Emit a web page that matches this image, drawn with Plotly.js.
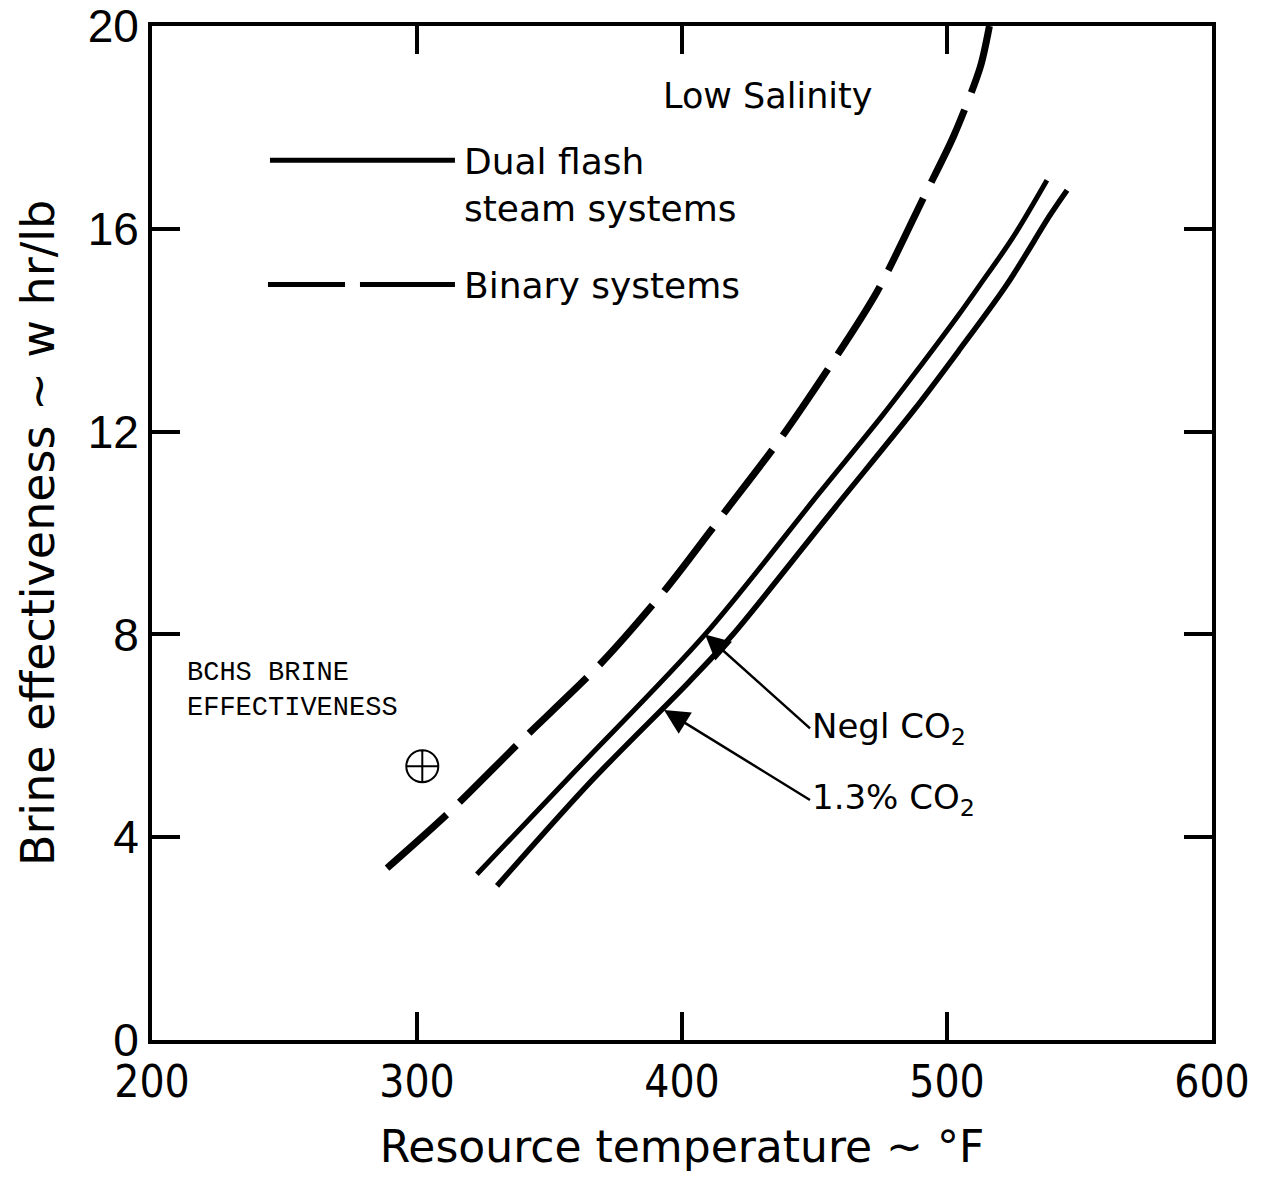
<!DOCTYPE html>
<html>
<head>
<meta charset="utf-8">
<script src="https://cdn.plot.ly/plotly-3.0.1.min.js"></script>
<style>
  html, body { margin: 0; padding: 0; background: #ffffff; }
  #chart { width: 1261px; height: 1181px; }
</style>
</head>
<body>
<div id="chart"></div>
<script>
// Binary systems (dashed)
const binaryTemp = [288.7, 311.3, 338.9, 369.8, 394.3, 415.8, 436.6, 455.8, 473.6, 491.3, 502.6, 512.5, 516.0];
const binaryEff  = [3.39, 4.45, 5.88, 7.45, 8.92, 10.39, 11.82, 13.29, 14.76, 16.63, 17.84, 19.18, 20.0];

// Dual flash steam systems, negligible CO2 (upper solid)
const neglTemp = [322.6, 359.6, 408.7, 452.0, 475.5, 487.9, 504.5, 512.5, 524.5, 537.7];
const neglEff  = [3.27, 5.3, 8.0, 10.8, 12.31, 13.15, 14.31, 14.9, 15.8, 16.96];

// Dual flash steam systems, 1.3% CO2 (lower solid)
const co2Temp = [330.2, 366.0, 402.6, 418.9, 457.7, 487.9, 504.5, 522.6, 538.9, 545.3];
const co2Eff  = [3.04, 5.12, 7.06, 7.98, 10.5, 12.45, 13.6, 14.9, 16.27, 16.76];

// BCHS brine effectiveness point
const bchsTemp = [302];
const bchsEff  = [5.4];

const xTicks = [200, 300, 400, 500, 600];
const yTicks = [0, 4, 8, 12, 16, 20];

const traces = [
  { x: binaryTemp, y: binaryEff, type: 'scatter', mode: 'lines',
    line: { color: '#000', width: 7, dash: '80px,18px', shape: 'spline', smoothing: 0.8 }, name: 'Binary systems' },
  { x: neglTemp, y: neglEff, type: 'scatter', mode: 'lines',
    line: { color: '#000', width: 5, shape: 'spline', smoothing: 0.9 }, name: 'Negl CO2' },
  { x: co2Temp, y: co2Eff, type: 'scatter', mode: 'lines',
    line: { color: '#000', width: 5.5, shape: 'spline', smoothing: 0.9 }, name: '1.3% CO2' },
  { x: bchsTemp, y: bchsEff, type: 'scatter', mode: 'markers',
    marker: { symbol: 'circle-cross-open', size: 32, color: '#000', line: { width: 2, color: '#000' } },
    name: 'BCHS' }
];

const layout = {
  width: 1261, height: 1181,
  paper_bgcolor: '#fff', plot_bgcolor: '#fff',
  showlegend: false,
  margin: { l: 152, r: 49, t: 26, b: 141 },
  xaxis: {
    range: [200, 600], tickvals: xTicks, ticktext: xTicks.map(String),
    showgrid: false, zeroline: false, showline: true, linecolor: '#000', linewidth: 4,
    mirror: 'ticks', ticks: 'inside', ticklen: 28, tickwidth: 4, tickcolor: '#000',
    ticklabeloverflow: 'allow',
    tickfont: { family: 'DejaVu Sans Condensed, Liberation Sans Narrow, Liberation Sans, sans-serif', size: 44, color: '#000' },
    title: { text: 'Resource temperature ~ °F', standoff: 26,
      font: { family: 'DejaVu Sans, sans-serif', size: 44, color: '#000' } }
  },
  yaxis: {
    range: [0, 20], tickvals: yTicks, ticktext: yTicks.map(String),
    showgrid: false, zeroline: false, showline: true, linecolor: '#000', linewidth: 4,
    mirror: 'ticks', ticks: 'inside', ticklen: 28, tickwidth: 4, tickcolor: '#000',
    ticklabeloverflow: 'allow',
    tickfont: { family: 'Liberation Sans, Arial, sans-serif', size: 46, color: '#000' },
    title: { text: 'Brine effectiveness ~ w hr/lb', standoff: 20,
      font: { family: 'DejaVu Sans, sans-serif', size: 46, color: '#000' } }
  },
  shapes: [
    { type: 'line', xref: 'paper', yref: 'paper', x0: 0.1113, x1: 0.2858, y0: 0.8676, y1: 0.8676,
      line: { color: '#000', width: 5 } },
    { type: 'line', xref: 'paper', yref: 'paper', x0: 0.1094, x1: 0.1821, y0: 0.745, y1: 0.745,
      line: { color: '#000', width: 5 } },
    { type: 'line', xref: 'paper', yref: 'paper', x0: 0.1962, x1: 0.2858, y0: 0.745, y1: 0.745,
      line: { color: '#000', width: 5 } }
  ],
  annotations: [
    { text: 'Low Salinity', xref: 'paper', yref: 'paper', x: 0.581, y: 0.931,
      xanchor: 'center', yanchor: 'middle', showarrow: false,
      font: { family: 'DejaVu Sans, sans-serif', size: 35, color: '#000' } },
    { text: 'Dual flash<br>steam systems', xref: 'paper', yref: 'paper', x: 0.2925, y: 0.843,
      xanchor: 'left', yanchor: 'middle', align: 'left', showarrow: false,
      font: { family: 'DejaVu Sans, sans-serif', size: 36, color: '#000' } },
    { text: 'Binary systems', xref: 'paper', yref: 'paper', x: 0.2925, y: 0.744,
      xanchor: 'left', yanchor: 'middle', align: 'left', showarrow: false,
      font: { family: 'DejaVu Sans, sans-serif', size: 36, color: '#000' } },
    { text: 'BCHS BRINE<br>EFFECTIVENESS', xref: 'paper', yref: 'paper', x: 0.031, y: 0.345,
      xanchor: 'left', yanchor: 'middle', align: 'left', showarrow: false,
      font: { family: 'Liberation Mono, DejaVu Sans Mono, monospace', size: 27, color: '#000' } },
    { text: 'Negl CO<sub>2</sub>', x: 408.7, y: 8.0, xref: 'x', yref: 'y',
      ax: 105, ay: 94, xanchor: 'left', yanchor: 'middle', showarrow: true,
      arrowhead: 2, arrowsize: 2, arrowwidth: 2.5, arrowcolor: '#000', standoff: 0,
      font: { family: 'DejaVu Sans, sans-serif', size: 34, color: '#000' } },
    { text: '1.3% CO<sub>2</sub>', x: 393.2, y: 6.51, xref: 'x', yref: 'y',
      ax: 146, ay: 90, xanchor: 'left', yanchor: 'middle', showarrow: true,
      arrowhead: 2, arrowsize: 2, arrowwidth: 2.5, arrowcolor: '#000', standoff: 0,
      font: { family: 'DejaVu Sans, sans-serif', size: 34, color: '#000' } }
  ]
};

Plotly.newPlot('chart', traces, layout, { displayModeBar: false, staticPlot: true });
</script>
</body>
</html>
